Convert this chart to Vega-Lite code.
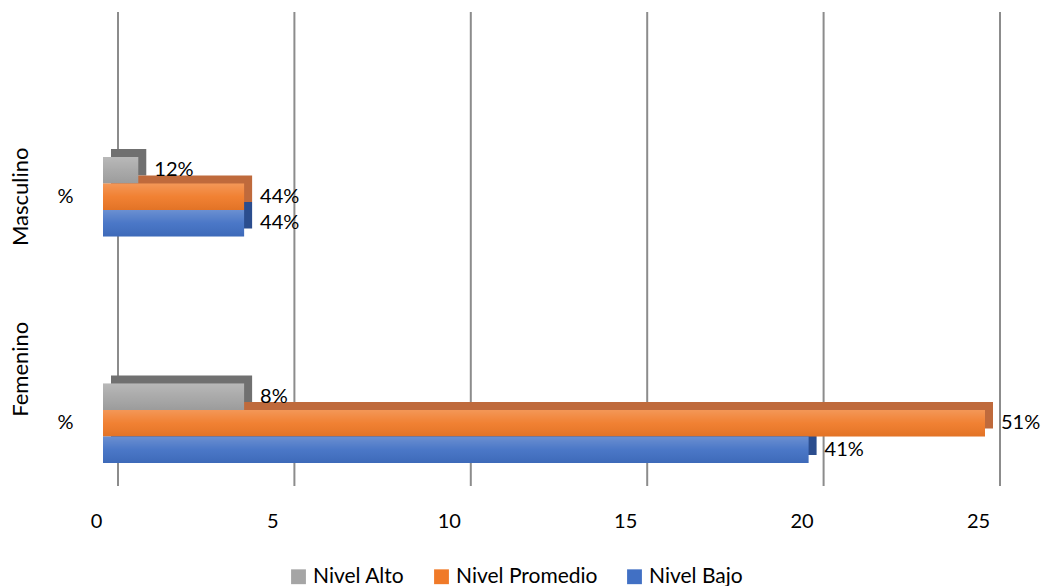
{
  "$schema": "https://vega.github.io/schema/vega-lite/v6.json",
  "width": 882,
  "height": 474,
  "autosize": {"type": "none"},
  "padding": {"left": 103, "top": 12, "right": 60, "bottom": 100},
  "background": "white",
  "config": {"font": "Lato", "view": {"stroke": null}},
  "datasets": {
    "bars": [
      {"grupo": "Masculino", "nivel": "Nivel Alto", "valor": 1, "pct": "12%"},
      {"grupo": "Masculino", "nivel": "Nivel Promedio", "valor": 4, "pct": "44%"},
      {"grupo": "Masculino", "nivel": "Nivel Bajo", "valor": 4, "pct": "44%"},
      {"grupo": "Femenino", "nivel": "Nivel Alto", "valor": 4, "pct": "8%"},
      {"grupo": "Femenino", "nivel": "Nivel Promedio", "valor": 25, "pct": "51%"},
      {"grupo": "Femenino", "nivel": "Nivel Bajo", "valor": 20, "pct": "41%"}
    ],
    "grid": [{"v": 0}, {"v": 5}, {"v": 10}, {"v": 15}, {"v": 20}, {"v": 25}]
  },
  "resolve": {"scale": {"color": "independent", "yOffset": "independent"}, "axis": {"y": "independent"}},
  "layer": [
    {
      "data": {"name": "grid"},
      "mark": {"type": "rule", "color": "#8c8c8c", "strokeWidth": 2, "xOffset": 15},
      "encoding": {
        "x": {"field": "v", "type": "quantitative", "scale": {"domain": [0, 25], "nice": false},
              "axis": {"orient": "bottom", "grid": false, "ticks": false, "domain": false, "values": [0, 5, 10, 15, 20, 25],
                       "labelFlush": false, "labelFontSize": 20, "labelColor": "#000000", "labelPadding": 25, "labelOffset": -7, "title": null}}
      }
    },
    {
      "data": {"name": "bars"},
      "mark": {"type": "bar", "xOffset": 8},
      "encoding": {
        "y": {"field": "grupo", "type": "nominal", "sort": ["Masculino", "Femenino"],
              "scale": {"paddingInner": 0.649, "paddingOuter": 0.371, "align": 0.863}, "axis": null},
        "yOffset": {"field": "nivel", "type": "nominal", "sort": ["Nivel Alto", "Nivel Promedio", "Nivel Bajo"],
                    "scale": {"type": "band", "paddingInner": 0, "paddingOuter": 0, "range": [-8, 71.5]}},
        "x": {"field": "valor", "type": "quantitative"},
        "color": {"field": "nivel", "type": "nominal",
                  "scale": {"domain": ["Nivel Alto", "Nivel Promedio", "Nivel Bajo"], "range": ["#707070", "#bf6a3c", "#2b4d8e"]},
                  "legend": null}
      }
    },
    {
      "data": {"name": "bars"},
      "mark": {"type": "bar"},
      "encoding": {
        "y": {"field": "grupo", "type": "nominal", "sort": ["Masculino", "Femenino"],
              "scale": {"paddingInner": 0.649, "paddingOuter": 0.371, "align": 0.863},
              "axis": {"orient": "left", "title": null, "ticks": false, "domain": false, "labelExpr": "'%'",
                       "labelFontSize": 20, "labelColor": "#000000", "labelPadding": 30}},
        "yOffset": {"field": "nivel", "type": "nominal", "sort": ["Nivel Alto", "Nivel Promedio", "Nivel Bajo"],
                    "scale": {"type": "band", "paddingInner": 0, "paddingOuter": 0}},
        "x": {"field": "valor", "type": "quantitative"},
        "color": {"field": "nivel", "type": "nominal",
                  "scale": {"domain": ["Nivel Alto", "Nivel Promedio", "Nivel Bajo"], "range": ["#a5a5a5", "#f07a28", "#4170c4"]},
                  "legend": {"orient": "none", "legendX": 185, "legendY": 554, "title": null, "direction": "horizontal", "symbolType": "square",
                             "symbolSize": 220, "symbolStrokeWidth": 0, "labelFontSize": 21, "labelColor": "#000000",
                             "columnPadding": 26}}
      }
    },
    {
      "data": {"name": "bars"},
      "mark": {"type": "bar", "color": {"gradient": "linear", "x1": 0, "y1": 0, "x2": 0, "y2": 1,
               "stops": [{"offset": 0, "color": "rgba(255,255,255,0.22)"}, {"offset": 0.5, "color": "rgba(255,255,255,0.05)"}, {"offset": 1, "color": "rgba(0,0,0,0.06)"}]}},
      "encoding": {
        "y": {"field": "grupo", "type": "nominal", "sort": ["Masculino", "Femenino"],
              "scale": {"paddingInner": 0.649, "paddingOuter": 0.371, "align": 0.863}, "axis": null},
        "yOffset": {"field": "nivel", "type": "nominal", "sort": ["Nivel Alto", "Nivel Promedio", "Nivel Bajo"],
                    "scale": {"type": "band", "paddingInner": 0, "paddingOuter": 0}},
        "x": {"field": "valor", "type": "quantitative"}
      }
    },
    {
      "data": {"name": "bars"},
      "mark": {"type": "text", "align": "left", "baseline": "middle", "dx": 16, "fontSize": 20, "color": "#000000"},
      "encoding": {
        "y": {"field": "grupo", "type": "nominal", "sort": ["Masculino", "Femenino"],
              "scale": {"paddingInner": 0.649, "paddingOuter": 0.371, "align": 0.863},
              "axis": {"orient": "left", "title": null, "ticks": false, "domain": false, "labelAngle": -90,
                       "labelAlign": "center", "labelBaseline": "bottom", "labelFontSize": 22, "labelColor": "#000000",
                       "labelPadding": 71,
                       "labelOffset": {"condition": {"test": "datum.value == 'Femenino'", "value": -54}, "value": 0}}},
        "yOffset": {"field": "nivel", "type": "nominal", "sort": ["Nivel Alto", "Nivel Promedio", "Nivel Bajo"],
                    "scale": {"type": "band", "paddingInner": 0, "paddingOuter": 0}},
        "x": {"field": "valor", "type": "quantitative"},
        "text": {"field": "pct"}
      }
    }
  ]
}
